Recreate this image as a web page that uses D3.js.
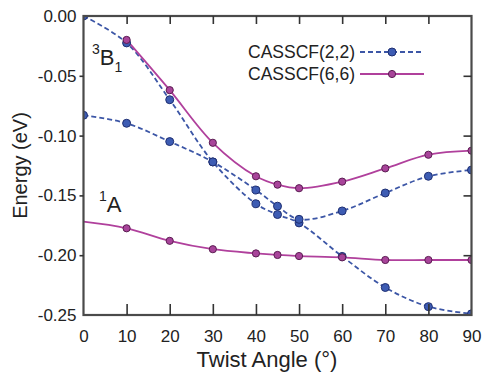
<!DOCTYPE html>
<html>
<head>
<meta charset="utf-8">
<script src="https://cdn.jsdelivr.net/npm/d3@7"></script>
<style>
  body { margin: 0; background: #fff; }
  text { font-family: "Liberation Sans", Arial, sans-serif; fill: #222; }
</style>
</head>
<body>
<div id="chart"></div>
<script>
const w = 483;
const h = 372;

// twist angles (deg)
const angles = [0, 10, 20, 30, 40, 45, 50, 60, 70, 80, 90];

// CASSCF(2,2), blue dashed
const cas22_B1 = [0.000, -0.0225, -0.070, -0.122, -0.157, -0.166, -0.173, -0.201, -0.227, -0.243, -0.249];
const cas22_A = [-0.083, -0.0897, -0.105, -0.122, -0.1455, -0.159, -0.170, -0.163, -0.148, -0.134, -0.1288];

// CASSCF(6,6), magenta solid (B1 curve begins at 10 deg)
const cas66_B1 = [null, -0.020, -0.062, -0.106, -0.134, -0.141, -0.144, -0.1385, -0.1274, -0.116, -0.1126];
const cas66_A = [-0.172, -0.1775, -0.188, -0.195, -0.1985, -0.1998, -0.2007, -0.2018, -0.204, -0.204, -0.204];

const xTicks = [0, 10, 20, 30, 40, 50, 60, 70, 80, 90];
const yTicks = [0, -0.05, -0.10, -0.15, -0.20, -0.25];

const BLUE = "#3c56a6";
const MAG = "#b0409c";

const svg = d3.select("#chart")
    .append("svg")
    .attr("width", w)
    .attr("height", h);

const x = d3.scaleLinear().domain([0, 90]).range([83.5, 471.5]);
const y = d3.scaleLinear().domain([-0.25, 0]).range([315, 16]);

const line = d3.line()
    .defined(d => d[1] !== null)
    .x(d => x(d[0]))
    .y(d => y(d[1]))
    .curve(d3.curveCatmullRom.alpha(0.5));

function series(vals) {
    return angles.map((a, i) => [a, vals[i]]);
}

const curves = [
    {vals: cas22_B1, color: BLUE, dash: "5,3", fill: "#3d5cb3", stroke: "#1f2f72", r: 4, from: 0},
    {vals: cas22_A, color: BLUE, dash: "5,3", fill: "#3d5cb3", stroke: "#1f2f72", r: 4, from: 0},
    {vals: cas66_B1, color: MAG, dash: null, fill: "#a8449a", stroke: "#5b1d52", r: 3.6, from: 10},
    {vals: cas66_A, color: MAG, dash: null, fill: "#a8449a", stroke: "#5b1d52", r: 3.6, from: 10}
];

const plot = svg.append("g");

plot.append("clipPath").attr("id", "clip")
    .append("rect")
    .attr("x", x(0)).attr("y", y(0))
    .attr("width", x(90) - x(0)).attr("height", y(-0.25) - y(0));

curves.forEach(c => {
    const data = series(c.vals);
    plot.append("path")
        .datum(data)
        .attr("d", line)
        .attr("fill", "none")
        .attr("stroke", c.color)
        .attr("stroke-width", 1.8)
        .attr("stroke-dasharray", c.dash);
});

curves.forEach(c => {
    const data = series(c.vals).filter(d => d[1] !== null && d[0] >= c.from);
    plot.append("g")
        .attr("clip-path", "url(#clip)")
        .selectAll("circle")
        .data(data)
        .enter()
        .append("circle")
        .attr("cx", d => x(d[0]))
        .attr("cy", d => y(d[1]))
        .attr("r", c.r)
        .attr("fill", c.fill)
        .attr("stroke", c.stroke)
        .attr("stroke-width", 1);
});

// frame
svg.append("rect")
    .attr("x", x(0)).attr("y", y(0))
    .attr("width", x(90) - x(0)).attr("height", y(-0.25) - y(0))
    .attr("fill", "none")
    .attr("stroke", "#4a4a4a")
    .attr("stroke-width", 2.2);

// axes
const fmtY = d => (Math.abs(d) < 1e-9 ? 0 : d).toFixed(2);

const axBottom = svg.append("g")
    .attr("transform", "translate(0," + y(-0.25) + ")")
    .call(d3.axisBottom(x).tickValues(xTicks).tickSize(-11).tickPadding(15).tickSizeOuter(0));

const axTop = svg.append("g")
    .attr("transform", "translate(0," + y(0) + ")")
    .call(d3.axisTop(x).tickValues(xTicks.slice(1, -1)).tickSize(-8).tickFormat("").tickSizeOuter(0));

const axLeft = svg.append("g")
    .attr("transform", "translate(" + x(0) + ",0)")
    .call(d3.axisLeft(y).tickValues(yTicks).tickSize(4).tickPadding(3).tickFormat(fmtY).tickSizeOuter(0));

const axRight = svg.append("g")
    .attr("transform", "translate(" + x(90) + ",0)")
    .call(d3.axisRight(y).tickValues(yTicks.slice(1, -1)).tickSize(-8).tickFormat("").tickSizeOuter(0));

[axBottom, axTop, axLeft, axRight].forEach(g => {
    g.select(".domain").remove();
    g.selectAll(".tick line").attr("stroke", "#333").attr("stroke-width", 1.6);
    g.selectAll(".tick text")
        .style("font-family", "'Liberation Sans', Arial, sans-serif")
        .style("font-size", "17px")
        .attr("fill", "#222");
});
axBottom.selectAll(".tick line").filter(d => d === 0 || d === 90).remove();
axLeft.selectAll(".tick line").filter(d => d === 0 || d === -0.25).remove();

// axis titles
svg.append("text")
    .attr("x", 267)
    .attr("y", 367)
    .attr("text-anchor", "middle")
    .style("font-size", "22px")
    .text("Twist Angle (°)");

svg.append("text")
    .attr("transform", "translate(27," + ((y(0) + y(-0.25)) / 2) + ") rotate(-90)")
    .attr("text-anchor", "middle")
    .style("font-size", "20px")
    .text("Energy (eV)");

// state labels
const b1 = svg.append("text").attr("x", 92).attr("y", 65).style("font-size", "22px");
b1.append("tspan").attr("dy", -11).style("font-size", "14px").text("3");
b1.append("tspan").attr("dy", 11).text("B");
b1.append("tspan").attr("dy", 7).style("font-size", "14px").text("1");

const a1 = svg.append("text").attr("x", 99).attr("y", 212).style("font-size", "22px");
a1.append("tspan").attr("dy", -11).style("font-size", "14px").text("1");
a1.append("tspan").attr("dy", 11).text("A");

// legend
const legendItems = [
    {name: "CASSCF(2,2)", color: BLUE, dash: "5,3", fill: "#3d5cb3", stroke: "#1f2f72", r: 4},
    {name: "CASSCF(6,6)", color: MAG, dash: null, fill: "#a8449a", stroke: "#5b1d52", r: 3.6}
];

const legend = svg.append("g").attr("transform", "translate(355,52)");
legend.selectAll("g")
    .data(legendItems)
    .enter()
    .append("g")
    .attr("transform", (d, i) => "translate(0," + i * 22 + ")")
    .each(function(d) {
        const g = d3.select(this);
        g.append("text")
            .attr("x", 0).attr("y", 6)
            .attr("text-anchor", "end")
            .style("font-size", "17.5px")
            .text(d.name);
        g.append("line")
            .attr("x1", 5).attr("x2", 69).attr("y1", 0).attr("y2", 0)
            .attr("stroke", d.color).attr("stroke-width", 1.8)
            .attr("stroke-dasharray", d.dash);
        g.append("circle")
            .attr("cx", 37).attr("cy", 0).attr("r", d.r)
            .attr("fill", d.fill).attr("stroke", d.stroke);
    });
</script>
</body>
</html>
